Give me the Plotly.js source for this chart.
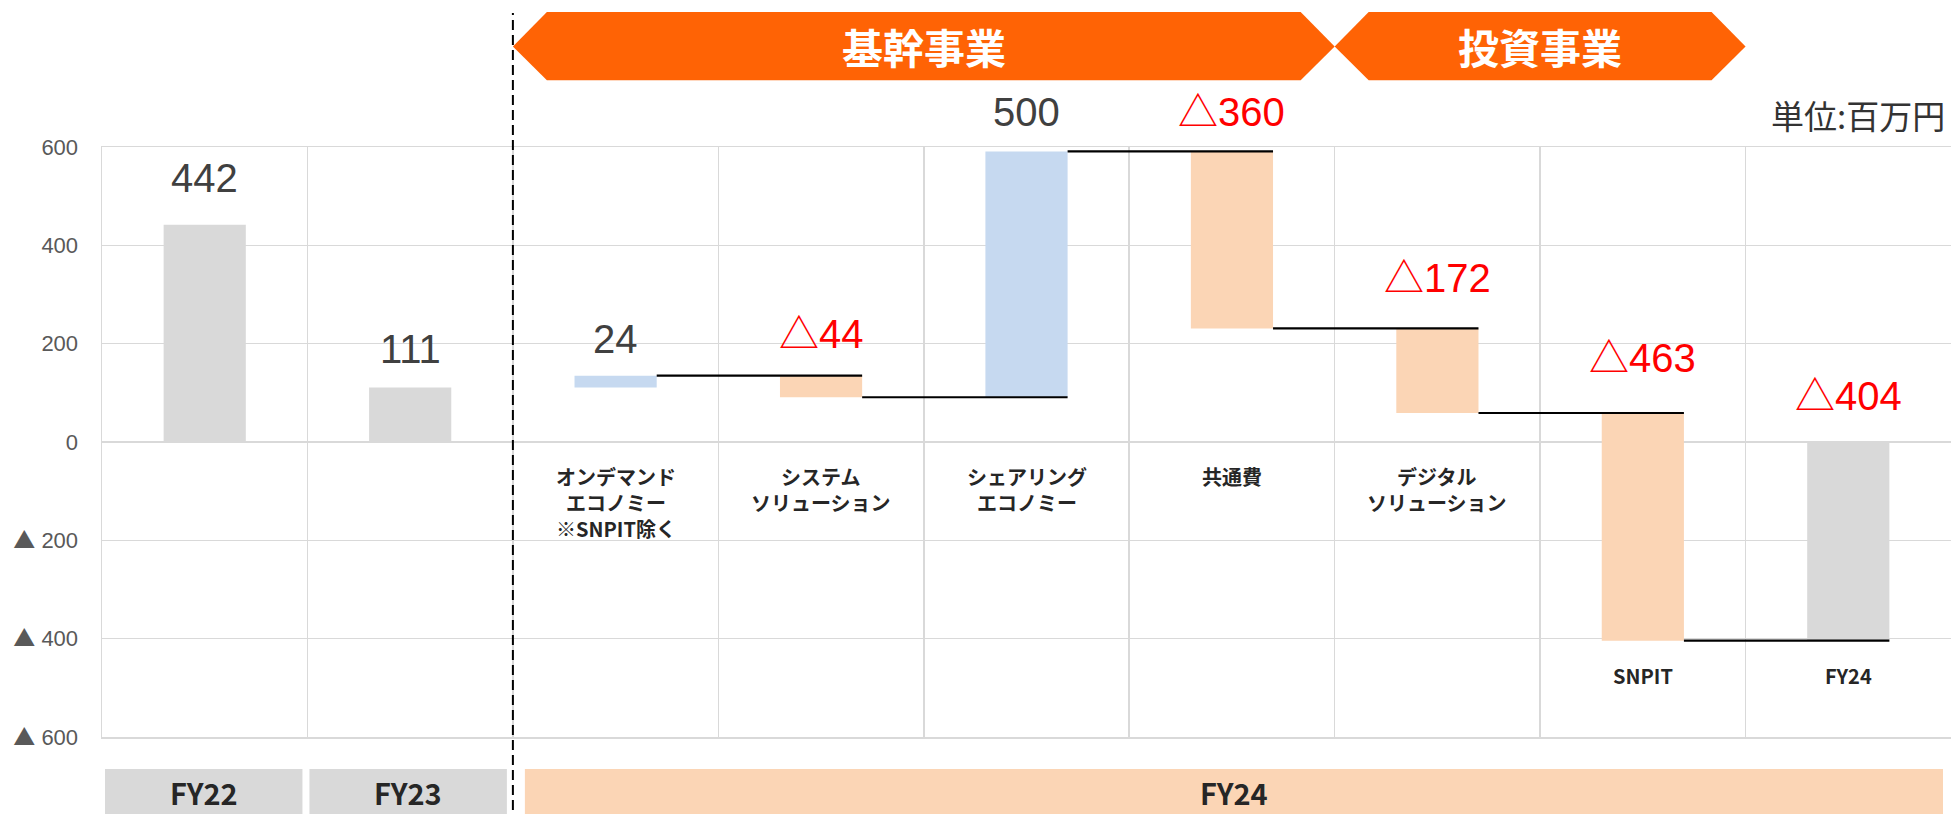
<!DOCTYPE html>
<html><head><meta charset="utf-8">
<script src="https://cdn.plot.ly/plotly-3.0.1.min.js"></script>
<style>html,body{margin:0;padding:0;background:#fff;overflow:hidden}#chart{width:1951px;height:814px}</style>
</head><body><div id="chart"></div>
<script>
// ---- data ----
const categories = ['FY22', 'FY23', 'オンデマンド<br>エコノミー<br>※SNPIT除く', 'システム<br>ソリューション', 'シェアリング<br>エコノミー', '共通費', 'デジタル<br>ソリューション', 'SNPIT', 'FY24'];
const values = [442, 111, 24, -44, 500, -360, -172, -463, -404];
const kinds = ['total', 'total', 'delta', 'delta', 'delta', 'delta', 'delta', 'delta', 'total'];
const showCategoryLabel = [false, false, true, true, true, true, true, true, true];
const periods = ['FY22', 'FY23', 'FY24'];
const periodFirst = [0, 1, 2];
const periodLast = [0, 1, 8];
const segments = ['基幹事業', '投資事業'];
const segmentFirst = [2, 6];
const segmentLast = [5, 7];
const yTickVals = [-600, -400, -200, 0, 200, 400, 600];
const yTickText = ['▲ 600', '▲ 400', '▲ 200', '0', '200', '400', '600'];
const unitLabel = '単位:百万円';

// ---- styles ----
const GREY = '#d9d9d9', BLUE = '#c6d9f0', PEACH = '#fbd5b5', ORANGE = '#ff6305', GRID = '#d9d9d9';
const NUMFONT = 'Liberation Sans, Arial, Noto Sans CJK JP, sans-serif';
const JPFONT = 'Noto Sans CJK JP, Noto Sans, sans-serif';
const BAR_W = 0.4;
const labelLift = [47, 38, 37, 42, 39, 39, 50, 55, 46];
const periodInsetL = [3, 2, 12], periodInsetR = [5, 6, 8];
const PX_PER_CAT = 1849 / 9;

// ---- derive waterfall geometry from values ----
const xs = categories.map((_, i) => i);
const bases = [], heights = [], colors = [];
let running = 0;
values.forEach((v, i) => {
  if (kinds[i] === 'total') { bases.push(0); heights.push(v); running = v; colors.push(GREY); }
  else { bases.push(running); heights.push(v); running += v; colors.push(v >= 0 ? BLUE : PEACH); }
});

const bars = {
  type: 'bar', x: xs, y: heights, base: bases, width: BAR_W,
  marker: { color: colors, line: { width: 0 } }, hoverinfo: 'skip'
};

const cx = [], cy = [];
for (let i = 0; i < values.length - 1; i++) {
  if (kinds[i] !== 'delta') continue;
  const lvl = bases[i] + heights[i];
  cx.push(i + BAR_W / 2, i + 1 + BAR_W / 2, null);
  cy.push(lvl, lvl, null);
}
const connectors = {
  type: 'scatter', mode: 'lines', x: cx, y: cy,
  line: { color: '#000', width: 2.2 }, hoverinfo: 'skip', connectgaps: false
};

const annotations = [];
values.forEach((v, i) => {
  const top = Math.max(bases[i], bases[i] + heights[i]);
  annotations.push({
    x: i, y: top, xref: 'x', yref: 'y', showarrow: false,
    text: v < 0 ? '△' + Math.abs(v) : String(v),
    yanchor: 'middle', yshift: labelLift[i],
    font: { family: NUMFONT, size: 40, color: v < 0 ? '#ff0000' : '#404040' }
  });
  if (showCategoryLabel[i]) {
    const low = Math.min(0, bases[i], bases[i] + heights[i]);
    annotations.push({
      x: i, y: low, xref: 'x', yref: 'y', showarrow: false,
      text: categories[i], yanchor: 'top', yshift: -18, align: 'center',
      font: { family: JPFONT, size: 20, weight: 700, color: '#262626' }
    });
  }
});

const shapes = [];
const py2paper = py => (737 - py) / 590;
// period boxes
periods.forEach((p, k) => {
  const x0 = periodFirst[k] - 0.5 + periodInsetL[k] / PX_PER_CAT;
  const x1 = periodLast[k] + 0.5 - periodInsetR[k] / PX_PER_CAT;
  shapes.push({
    type: 'rect', xref: 'x', yref: 'paper', x0: x0, x1: x1, y0: py2paper(769), y1: -0.2,
    fillcolor: k < 2 ? GREY : PEACH, line: { width: 0 }, layer: 'above'
  });
  annotations.push({
    x: (x0 + x1) / 2, y: py2paper(792), xref: 'x', yref: 'paper', showarrow: false,
    text: p, yanchor: 'middle',
    font: { family: JPFONT, size: 29, weight: 700, color: '#262626' }
  });
});
// segment banners
const yT = py2paper(12), yM = py2paper(46.5), yB = py2paper(80.3), tip = 34 / PX_PER_CAT;
segments.forEach((s, k) => {
  const a = segmentFirst[k] - 0.5, b = segmentLast[k] + 0.5;
  shapes.push({
    type: 'path', xref: 'x', yref: 'paper', fillcolor: ORANGE, line: { width: 0 }, layer: 'above',
    path: `M ${a},${yM} L ${a + tip},${yT} L ${b - tip},${yT} L ${b},${yM} L ${b - tip},${yB} L ${a + tip},${yB} Z`
  });
  annotations.push({
    x: (a + b) / 2, y: yM, xref: 'x', yref: 'paper', showarrow: false, text: s, yanchor: 'middle',
    font: { family: JPFONT, size: 41, weight: 700, color: '#ffffff' }
  });
});
// dashed divider between history and FY24
shapes.push({
  type: 'line', xref: 'x', yref: 'paper', x0: 1.5, x1: 1.5, y0: -0.2, y1: py2paper(13),
  line: { color: '#000', width: 2, dash: '10px,5px' }, layer: 'above'
});
annotations.push({
  x: 1, y: py2paper(114.7), xref: 'paper', yref: 'paper', showarrow: false, text: unitLabel,
  xanchor: 'right', yanchor: 'middle', xshift: -4,
  font: { family: JPFONT, size: 33, color: '#333333' }
});

// make the ▲ in tick labels use a full-width glyph like the reference
const tickTextStyled = yTickText.map(t => t.replace('▲', '<span style="font-family:Noto Sans CJK JP">▲</span>'));

const layout = {
  width: 1951, height: 814,
  margin: { l: 102, r: 0, t: 147, b: 77, pad: 0 },
  paper_bgcolor: '#ffffff', plot_bgcolor: '#ffffff', showlegend: false,
  xaxis: {
    range: [-0.5, 8.5], tickmode: 'linear', tick0: -0.5, dtick: 1, showticklabels: false, ticks: '',
    showgrid: true, gridcolor: GRID, gridwidth: 1.5, zeroline: false,
    showline: true, mirror: true, linecolor: GRID, linewidth: 1.5, fixedrange: true
  },
  yaxis: {
    range: [-600, 600], tickmode: 'array', tickvals: yTickVals, ticktext: tickTextStyled,
    showgrid: true, gridcolor: GRID, gridwidth: 1.5, zeroline: false,
    showline: true, linecolor: GRID, linewidth: 1.5, ticks: '', ticklabelstandoff: 18,
    tickfont: { family: NUMFONT, size: 22, color: '#595959' }, fixedrange: true
  },
  shapes: shapes, annotations: annotations
};

Plotly.newPlot('chart', [bars, connectors], layout, { displayModeBar: false, staticPlot: true });
</script></body></html>
